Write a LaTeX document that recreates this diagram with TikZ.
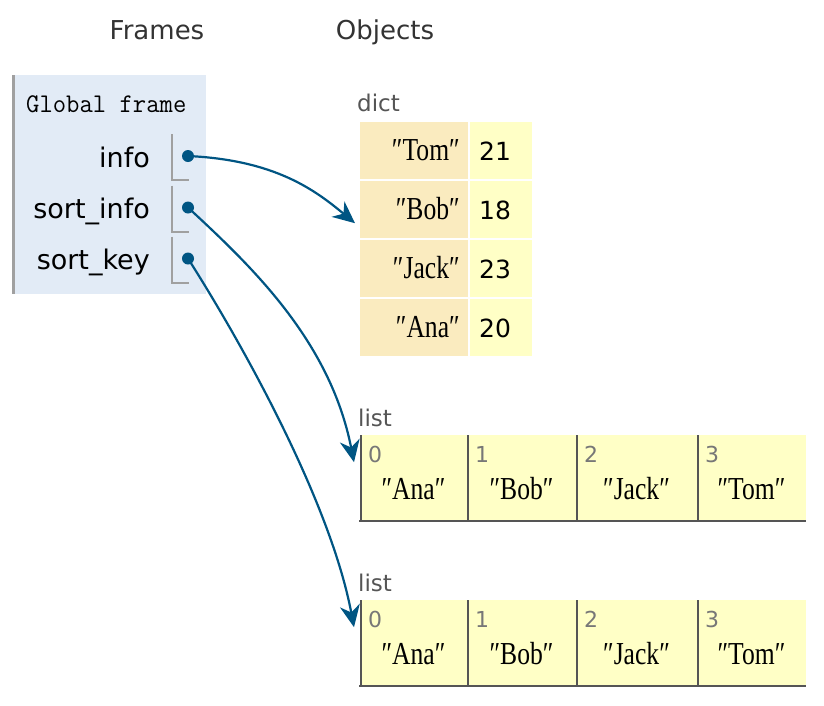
\documentclass[tikz,border=0pt]{standalone}
\usepackage{fontspec}
\setmainfont{DejaVu Sans}
\newfontfamily\strfont[FakeStretch=0.8]{Liberation Serif}
\newfontfamily\monofont[FakeStretch=0.96]{Latin Modern Mono}
\usetikzlibrary{arrows.meta}

\definecolor{framebg}{HTML}{E2EBF6}
\definecolor{framegray}{HTML}{A0A0A0}
\definecolor{arrowblue}{HTML}{005583}
\definecolor{keybg}{HTML}{FAEBBF}
\definecolor{valbg}{HTML}{FFFFC6}
\definecolor{cellgray}{HTML}{555555}
\definecolor{idxgray}{HTML}{777777}
\definecolor{headgray}{HTML}{333333}

\begin{document}
\begin{tikzpicture}[x=1pt, y=-1pt,
    heading/.style={anchor=base, inner sep=0, text=headgray, font=\fontsize{26}{30}\selectfont},
    varname/.style={anchor=base east, inner sep=0, font=\fontsize{27}{31}\selectfont},
    typelabel/.style={anchor=base west, inner sep=0, text=cellgray, font=\fontsize{23}{27}\selectfont},
    refdot/.style={circle, fill=arrowblue, inner sep=0, minimum size=12},
    keycell/.style={fill=keybg, minimum width=108, minimum height=57, inner sep=0, anchor=north west},
    valcell/.style={fill=valbg, minimum width=62, minimum height=57, inner sep=0, anchor=north west},
    elemcell/.style={fill=valbg, minimum height=86, inner sep=0, anchor=north west},
    strtext/.style={inner sep=0, font=\strfont\fontsize{32}{36}\selectfont},
    numtext/.style={anchor=base west, inner sep=0, font=\fontsize{25}{29}\selectfont},
    idxtext/.style={anchor=base west, inner sep=0, text=idxgray, font=\fontsize{22}{26}\selectfont},
    cellborder/.style={draw=cellgray, line width=2},
    pointer/.style={draw=arrowblue, line width=2.2, -{Stealth[length=22pt,width=20pt,inset=7pt]}},
  ]
  \useasboundingbox (0,0) rectangle (824,705);

  % Headings
  \node[heading] (frames-title) at (157,39) {Frames};
  \node[heading] (objects-title) at (385,39) {Objects};

  % Global frame
  \node[fill=framebg, minimum width=194, minimum height=219, inner sep=0, anchor=north west] (globalframe) at (12,75) {};
  \draw[framegray, line width=2.5] ([xshift=1.25]globalframe.north west) -- ([xshift=1.25]globalframe.south west);
  \node[anchor=base west, inner sep=0, font=\monofont\fontsize{27}{30}\selectfont] (gf-title) at (26,112) {Global frame};

  % Variables and their slots
  \foreach \n/\t/\y in {info/info/134, sortinfo/sort\_info/185.5, sortkey/sort\_key/236.5} {
    \node[varname] (var-\n) at (150,\y+33) {\t};
    \draw[framegray, line width=2] (172,\y) -- (172,\y+46) -- (189,\y+46);
    \node[refdot] (dot-\n) at (188,\y+22) {};
  }

  % dict
  \node[typelabel] (dict-label) at (357,111) {dict};
  \foreach \k/\v [count=\i from 0] in {Tom/21, Bob/18, Jack/23, Ana/20} {
    \node[keycell] (key-\k) at (360,{122+59*\i}) {};
    \node[valcell] (val-\k) at (470,{122+59*\i}) {};
    \node[strtext, anchor=base east] at (460,{160+59*\i}) {″\k″};
    \node[numtext] at (479,{160.5+59*\i}) {\v};
  }

  % Two lists
  \foreach \ly/\lname in {435/first, 600/second} {
    \node[typelabel] (\lname-label) at (358,\ly-9) {list};
    \foreach \xa/\w/\s [count=\j from 0] in {360/107/Ana, 467/109/Bob, 576/121/Jack, 697/109/Tom} {
      \node[elemcell, minimum width=\w] (\lname-\j) at (\xa,\ly) {};
      \draw[cellborder] (\xa+0.8,\ly) -- (\xa+0.8,\ly+86);
      \node[idxtext] at (\xa+8,\ly+27) {\j};
      \node[strtext, anchor=base] at (\xa+\w/2,\ly+64) {″\s″};
    }
    \draw[cellborder] (359,\ly+85.5) -- (806,\ly+85.5);
  }

  % Pointers
  \draw[pointer] (dot-info.center) .. controls (275,160) and (315,190) .. ([shift={(-5,13.5)}]key-Bob.west);
  \draw[pointer] (dot-sortinfo.center) .. controls (250,265) and (330,340) .. ([shift={(-6,-16)}]first-0.west);
  \draw[pointer] (dot-sortkey.center) .. controls (240,340) and (330,500) .. ([shift={(-6,-16)}]second-0.west);
\end{tikzpicture}
\end{document}
